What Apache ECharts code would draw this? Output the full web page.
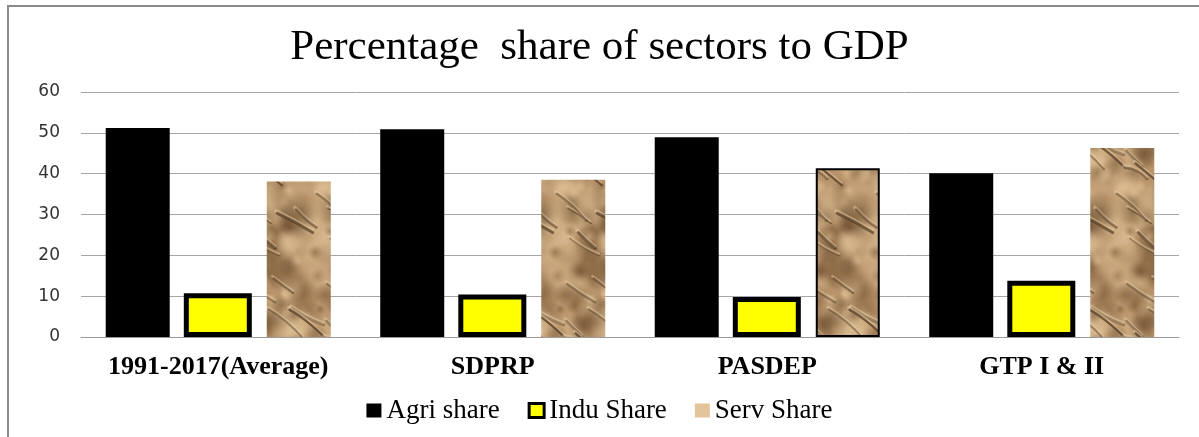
<!DOCTYPE html>
<html>
<head>
<meta charset="utf-8">
<script src="https://cdn.jsdelivr.net/npm/echarts@6/dist/echarts.min.js"></script>
<style>
html, body { margin: 0; padding: 0; background: #fff; }
#picturePlace0 { width: 1199px; height: 437px; }
</style>
</head>
<body>
<div id="picturePlace0"></div>
<script>
var categories = ['1991-2017(Average)', 'SDPRP', 'PASDEP', 'GTP I & II'];
var agriShare = [51.2, 50.9, 48.9, 40.1];
var induShare = [10.7, 10.4, 9.8, 13.8];
var servShare = [38.1, 38.5, 41.3, 46.3];
var yTicks = [0, 10, 20, 30, 40, 50, 60];

// crumpled paper look for the services bars (tile wraps at its edges)
function paperTexture() {
	var W = 80, H = 170;
	var c = document.createElement('canvas');
	c.width = W; c.height = H;
	var ctx = c.getContext('2d');
	ctx.fillStyle = '#b8936a';
	ctx.fillRect(0, 0, W, H);
	var seed = 23;
	function rnd() { seed = (seed * 9301 + 49297) % 233280; return seed / 233280; }
	function wrapped(fn) {
		for (var dx = -W; dx <= W; dx += W) {
			for (var dy = -H; dy <= H; dy += H) {
				ctx.save(); ctx.translate(dx, dy); fn(); ctx.restore();
			}
		}
	}
	// soft light and dark patches
	for (var i = 0; i < 120; i++) {
		(function () {
			var x = rnd() * W, y = rnd() * H, r = 5 + rnd() * 16;
			var light = rnd() > 0.45;
			var col = light ? '226,196,152' : '100,70,40';
			var a = light ? 0.5 : 0.4;
			wrapped(function () {
				var g = ctx.createRadialGradient(x, y, 0, x, y, r);
				g.addColorStop(0, 'rgba(' + col + ',' + a + ')');
				g.addColorStop(1, 'rgba(' + col + ',0)');
				ctx.fillStyle = g;
				ctx.fillRect(x - r, y - r, r * 2, r * 2);
			});
		})();
	}
	// creases, mostly running down to the right
	for (var j = 0; j < 14; j++) {
		(function () {
			var sx = rnd() * W, sy = rnd() * H, len = 16 + rnd() * 22;
			var bend = (rnd() - 0.5) * 12, drop = len * (0.4 + rnd() * 0.6);
			var alpha = 0.35 + rnd() * 0.35, lw = 1.2 + rnd() * 2;
			wrapped(function () {
				ctx.lineCap = 'round';
				ctx.strokeStyle = 'rgba(236,210,170,0.45)';
				ctx.lineWidth = lw + 1;
				ctx.beginPath();
				ctx.moveTo(sx - 1, sy - 2);
				ctx.quadraticCurveTo(sx + len * 0.5 - 1, sy + drop * 0.5 + bend - 2, sx + len - 1, sy + drop - 2);
				ctx.stroke();
				ctx.strokeStyle = 'rgba(62,38,18,' + alpha + ')';
				ctx.lineWidth = lw;
				ctx.beginPath();
				ctx.moveTo(sx, sy);
				ctx.quadraticCurveTo(sx + len * 0.5, sy + drop * 0.5 + bend, sx + len, sy + drop);
				ctx.stroke();
			});
		})();
	}
	return c;
}
var paper = paperTexture();

var myChart = echarts.init(document.getElementById('picturePlace0'));
function getOption() {
	var servData = servShare.map(function (v, i) {
		if (i === 2) {
			return { value: v, itemStyle: { borderColor: '#000', borderWidth: 2 } };
		}
		return v;
	});
	return {
		animation : false,
		title : {
			text : 'Percentage  share of sectors to GDP',
			left : 'center',
			top : 21,
			textStyle : {
				fontFamily : 'Liberation Serif',
				fontWeight : 'normal',
				fontSize : 43,
				color : '#000'
			}
		},
		graphic : [ {
			type : 'rect',
			shape : { x : 8, y : 6, width : 1200, height : 440 },
			style : { fill : 'none', stroke : '#8a8a8a', lineWidth : 2 },
			silent : true
		} ],
		legend : {
			bottom : 8,
			left : 'center',
			itemWidth : 15,
			itemHeight : 14,
			itemGap : 28,
			textStyle : {
				fontFamily : 'Liberation Serif',
				fontSize : 27,
				color : '#000'
			},
			data : [
				{ name : 'Agri share', icon : 'rect', itemStyle : { color : '#000' } },
				{ name : 'Indu Share', icon : 'rect', itemStyle : { color : '#ffff00', borderColor : '#000', borderWidth : 3 } },
				{ name : 'Serv Share', icon : 'rect', itemStyle : { color : '#e3c59c', borderWidth : 0 } }
			]
		},
		grid : {
			left : 81,
			right : 20,
			top : 92,
			bottom : 100
		},
		xAxis : [ {
			type : 'category',
			data : categories,
			axisTick : { show : false },
			axisLine : { lineStyle : { color : '#9a9a9a', width : 1 } },
			axisLabel : {
				interval : 0,
				margin : 17,
				fontFamily : 'Liberation Serif',
				fontWeight : 'bold',
				fontSize : 26,
				color : '#000'
			}
		} ],
		yAxis : [ {
			type : 'value',
			min : yTicks[0],
			max : yTicks[yTicks.length - 1],
			interval : 10,
			axisLine : { show : false },
			axisTick : { show : false },
			splitLine : { lineStyle : { color : '#a6a6a6', width : 1 } },
			axisLabel : {
				margin : 21,
				fontFamily : 'DejaVu Sans',
				fontSize : 17,
				color : '#333'
			}
		} ],
		series : [ {
			name : 'Agri share',
			type : 'bar',
			barWidth : 64,
			barGap : '22%',
			itemStyle : { color : '#000' },
			data : agriShare
		}, {
			name : 'Indu Share',
			type : 'bar',
			barWidth : 68,
			itemStyle : { color : '#ffff00', borderColor : '#000', borderWidth : 5 },
			data : induShare
		}, {
			name : 'Serv Share',
			type : 'bar',
			barWidth : 64,
			itemStyle : { color : { image : paper, repeat : 'repeat' } },
			data : servData
		} ]
	};
}
myChart.setOption(getOption());
</script>
</body>
</html>
